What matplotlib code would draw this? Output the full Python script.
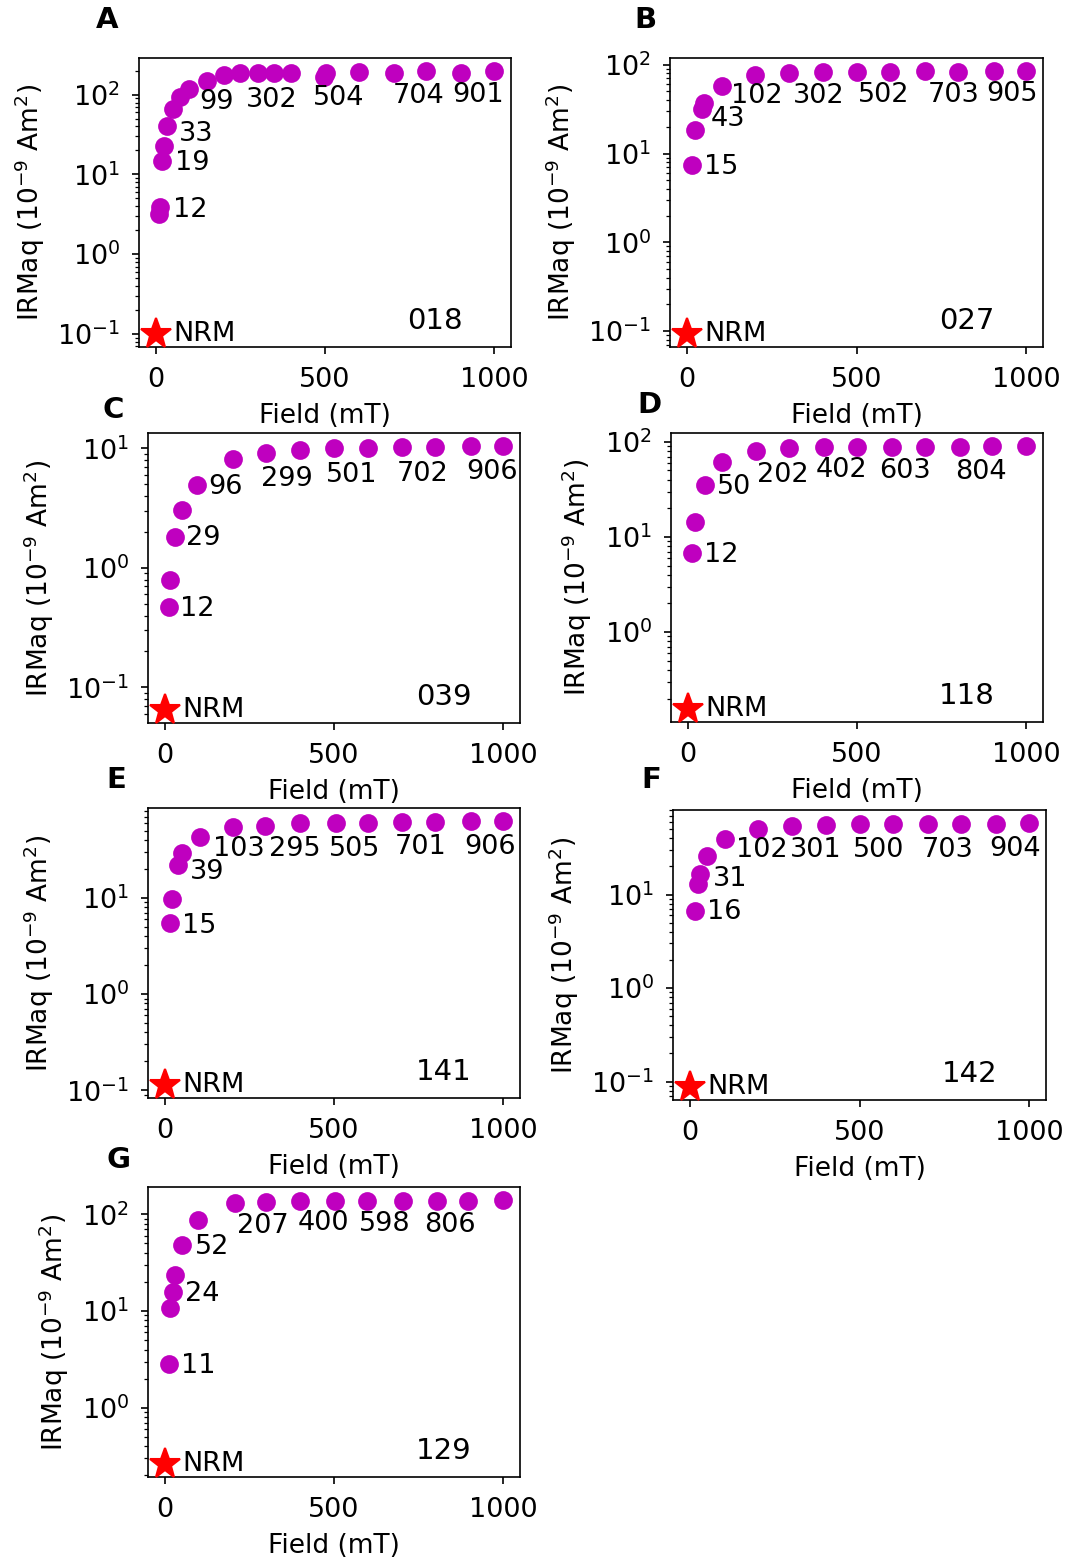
import matplotlib.pyplot as plt

plt.rcParams['font.size'] = 13
plt.rcParams['xtick.major.pad'] = 6
plt.rcParams['ytick.major.pad'] = 5.5

samples = ['018', '027', '039', '118', '141', '142', '129']
letters = ['A', 'B', 'C', 'D', 'E', 'F', 'G']

# IRM acquisition: applied field (mT) and IRM (1e-9 Am^2) per sample
field_018 = [10, 12, 19, 24, 33, 50, 70, 99, 150, 200, 250, 302, 350, 400, 497, 504, 600, 704, 800, 901, 1000]
irm_018 = [3.2, 3.9, 14.6, 22.6, 40, 67, 93, 119, 151, 175, 187, 187, 189, 187, 166, 190, 192, 187, 196, 187, 198]

field_027 = [15, 25, 43, 50, 102, 200, 302, 400, 502, 600, 703, 800, 905, 1000]
irm_027 = [7.5, 18.3, 32, 37, 57, 76, 80.5, 82.6, 82.6, 82.6, 84.7, 82.6, 84, 84.7]

field_039 = [12, 15, 29, 50, 96, 200, 299, 400, 501, 600, 702, 800, 906, 1000]
irm_039 = [0.47, 0.79, 1.8, 3.04, 4.9, 8.1, 9.2, 9.7, 10.0, 10.0, 10.2, 10.3, 10.45, 10.45]

field_118 = [12, 20, 50, 100, 202, 300, 402, 500, 603, 700, 804, 900, 1000]
irm_118 = [6.7, 14.5, 35, 61, 80, 86, 88, 88, 88, 88, 88, 90, 90]

field_141 = [15, 20, 39, 50, 103, 200, 295, 400, 505, 600, 701, 800, 906, 1000]
irm_141 = [5.5, 9.8, 21.8, 29.4, 43, 55, 56, 61, 61, 61, 62, 62, 63, 63]

field_142 = [16, 25, 31, 50, 102, 200, 301, 400, 500, 600, 703, 800, 904, 1000]
irm_142 = [6.6, 13.1, 16.8, 25.8, 39, 50, 54.7, 55.6, 56.6, 56.6, 57, 57, 57, 58]

field_129 = [11, 16, 24, 31, 52, 98, 207, 300, 400, 502, 598, 704, 806, 897, 1000]
irm_129 = [2.85, 10.7, 15.7, 23.5, 47.8, 87.6, 130, 135, 137, 137, 137, 138, 138, 138, 140]

# NRM of each sample (plotted at zero field)
nrm = [0.1, 0.093, 0.065, 0.156, 0.114, 0.088, 0.263]

# field steps written next to the curve
lab_018 = [12, 19, 33, 99, 302, 504, 704, 901]
lab_027 = [15, 43, 102, 302, 502, 703, 905]
lab_039 = [12, 29, 96, 299, 501, 702, 906]
lab_118 = [12, 50, 202, 402, 603, 804]
lab_141 = [15, 39, 103, 295, 505, 701, 906]
lab_142 = [16, 31, 102, 301, 500, 703, 904]
lab_129 = [11, 24, 52, 207, 400, 598, 806]

fields = [field_018, field_027, field_039, field_118, field_141, field_142, field_129]
irms = [irm_018, irm_027, irm_039, irm_118, irm_141, irm_142, irm_129]
labs = [lab_018, lab_027, lab_039, lab_118, lab_141, lab_142, lab_129]

# label offsets in pixels, so the numbers don't sit on the dots
offs = [
    [(13, -3), (13, -2), (12, -8), (10, -13), (-12, -27), (-13, -25), (-1, -23), (-8, -22)],
    [(12, -2), (9, -10), (9, -10), (4, -23), (1, -23), (2, -24), (-8, -23)],
    [(11, -2), (11, -1), (11, -2), (-5, -26), (-8, -27), (-6, -27), (-5, -26)],
    [(12, -2), (12, -2), (1, -24), (-8, -23), (-13, -24), (-5, -25)],
    [(12, -3), (12, -7), (13, -12), (4, -23), (-7, -26), (-7, -25), (-7, -26)],
    [(12, -1), (12, -5), (11, -11), (-2, -24), (-7, -26), (-7, -26), (-7, -25)],
    [(12, -2), (12, -2), (12, -2), (2, -23), (-2, -22), (-8, -23), (-13, -24)],
]

# axes boxes (pixels: left, top, right, bottom) and panel letter spots
W, H = 1065, 1558
boxes = [(139, 58, 511, 347), (670, 58, 1043, 347),
         (148, 433, 520, 723), (671, 433, 1043, 722),
         (148, 808, 520, 1098), (673, 810, 1046, 1100),
         (148, 1187, 520, 1477)]
letter_xy = [(107, 20), (645, 20), (113, 410), (649, 405), (116, 780), (651, 780), (118, 1160)]

fig = plt.figure(figsize=(W / 150, H / 150), dpi=150)

for i in range(len(samples)):
    l, t, r, b = boxes[i]
    ax = fig.add_axes([l / W, 1 - b / H, (r - l) / W, (b - t) / H])
    ax.scatter(fields[i], irms[i], s=64, color='m', zorder=2)
    ax.plot(0, nrm[i], '*', color='r', ms=15, zorder=3)
    ax.annotate('NRM', (0, nrm[i]), xytext=(17, 0), textcoords='offset pixels',
                ha='left', va='center')
    for lab, (dx, dy) in zip(labs[i], offs[i]):
        j = fields[i].index(lab)
        ax.annotate(str(lab), (fields[i][j], irms[i][j]), xytext=(dx, dy),
                    textcoords='offset pixels', ha='left', va='center')
    ax.set_yscale('log')
    ax.set_xticks([0, 500, 1000])
    ax.set_xlabel('Field (mT)', fontsize=12.7, labelpad=5)
    ax.set_ylabel('IRMaq (10$^{-9}$ Am$^2$)', fontsize=12.7, labelpad=5)
    ax.text(0.795, 0.09, samples[i], transform=ax.transAxes, ha='center', va='center',
            fontsize=14)
    fig.text(letter_xy[i][0] / W, 1 - letter_xy[i][1] / H, letters[i],
             ha='center', va='center', fontsize=14, fontweight='bold')

fig.savefig('out.png', dpi=150)
